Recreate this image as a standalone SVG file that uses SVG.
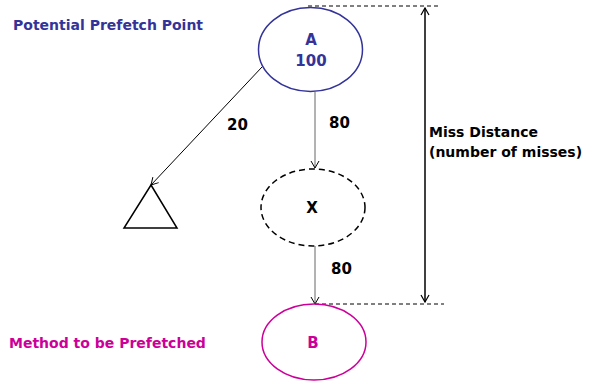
<svg xmlns="http://www.w3.org/2000/svg" width="592" height="381" viewBox="0 0 592 381">
<defs>
<marker id="ah" markerWidth="10" markerHeight="10" refX="8" refY="5" orient="auto" markerUnits="userSpaceOnUse"><path d="M1,1 L8,5 L1,9" fill="none" stroke="#000" stroke-width="1"/></marker>
<marker id="ahs" markerWidth="10" markerHeight="10" refX="8" refY="5" orient="auto-start-reverse" markerUnits="userSpaceOnUse"><path d="M1,1 L8,5 L1,9" fill="none" stroke="#000" stroke-width="1.2"/></marker>
</defs>
<style>
text{font-family:"DejaVu Sans",Verdana,sans-serif;font-weight:bold;font-size:14px}
.big{font-size:15px}
.blue{fill:#333399}
.pink{fill:#cc0099}
.lbl{fill:#000}
.guide{stroke:#000;stroke-width:1;stroke-dasharray:4,3;fill:none}
</style>
<rect width="592" height="381" fill="#fff"/>
<text class="blue" x="13" y="30">Potential Prefetch Point</text>
<text class="pink" x="9" y="348">Method to be Prefetched</text>
<g id="connectors">
<line class="guide" x1="308" y1="6" x2="438" y2="6"/>
<line class="guide" x1="315" y1="304" x2="444" y2="304" stroke="#555"/>
<line x1="425" y1="8" x2="425" y2="302" stroke="#000" stroke-width="1.5" marker-start="url(#ahs)" marker-end="url(#ahs)"/>
<line x1="315" y1="92" x2="315" y2="168" stroke="#666" stroke-width="1" marker-end="url(#ah)"/>
<line x1="315" y1="246" x2="315" y2="304" stroke="#666" stroke-width="1" marker-end="url(#ah)"/>
<line x1="262" y1="67" x2="151" y2="185" stroke="#000" stroke-width="1" marker-end="url(#ah)"/>
<text class="lbl big" x="227" y="130">20</text>
<text class="lbl big" x="329" y="128">80</text>
<text class="lbl big" x="331" y="274">80</text>
<text class="lbl" x="429" y="137">Miss Distance</text>
<text class="lbl" x="429" y="157">(number of misses)</text>
</g>
<g id="nodeA">
<ellipse cx="310.5" cy="49.5" rx="52" ry="42" fill="none" stroke="#333399" stroke-width="1.5"/>
<text class="blue big" x="311" y="45" text-anchor="middle">A</text>
<text class="blue big" x="311" y="66" text-anchor="middle">100</text>
</g>
<g id="nodeX">
<ellipse cx="313" cy="207.5" rx="52" ry="38.5" fill="none" stroke="#000" stroke-width="1.5" stroke-dasharray="6,4"/>
<text class="lbl big" x="312" y="213" text-anchor="middle">X</text>
</g>
<g id="nodeB">
<ellipse cx="314" cy="342" rx="52" ry="38" fill="none" stroke="#cc0099" stroke-width="1.5"/>
<text class="pink big" x="313" y="348" text-anchor="middle">B</text>
</g>
<g id="triangle">
<polygon points="151,185 177,228 124,228" fill="none" stroke="#000" stroke-width="1.5"/>
</g>
</svg>
